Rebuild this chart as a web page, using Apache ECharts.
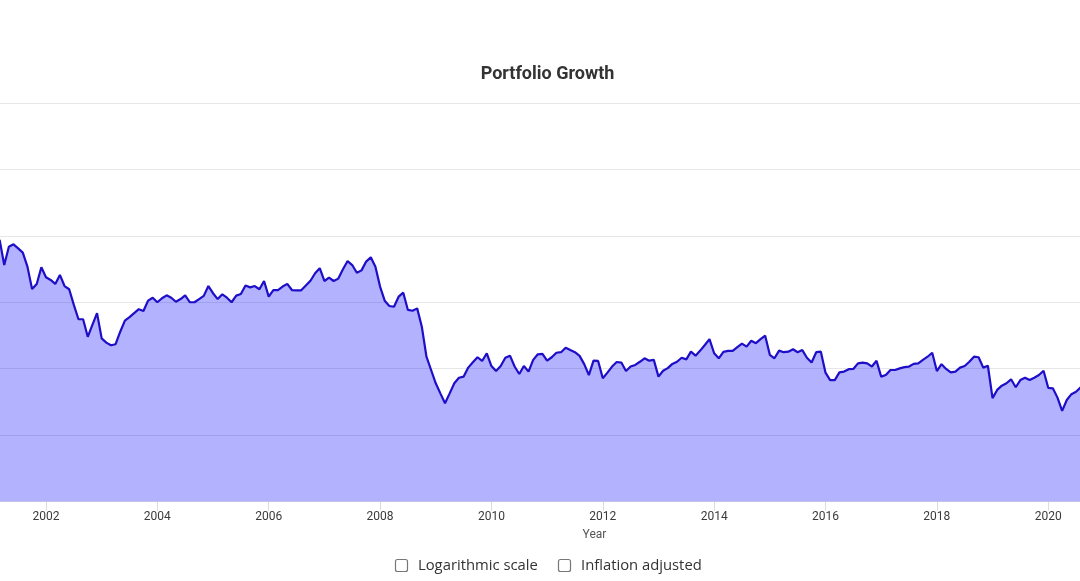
<!DOCTYPE html>
<html>
<head>
<meta charset="utf-8">
<script src="https://cdn.jsdelivr.net/npm/echarts@6/dist/echarts.min.js"></script>
<style>
  html, body { margin: 0; padding: 0; background: #ffffff; }
  #chart { width: 1080px; height: 581px; }
</style>
</head>
<body>
<div id="chart"></div>
<script>
// ---- Data (monthly portfolio value, USD) ----
const startYear = 2001;
const startMonth = 3; // first visible point: March 2001
const portfolioValues = [
  9850, 8900, 9590, 9680, 9530, 9370, 8840, 8000, 8190, 8820,          // 2001-03 .. 2001-12
  8440, 8340, 8190, 8530, 8110, 7990, 7400, 6860, 6860, 6200, 6650, 7090, // 2002
  6140, 5980, 5880, 5920, 6390, 6810, 6940, 7090, 7240, 7170, 7560, 7670, // 2003
  7500, 7650, 7760, 7670, 7520, 7620, 7760, 7500, 7500, 7620, 7740, 8110, // 2004
  7840, 7620, 7800, 7670, 7500, 7750, 7810, 8130, 8060, 8110, 7990, 8300, // 2005
  7710, 7960, 7960, 8090, 8190, 7960, 7950, 7950, 8130, 8310, 8590, 8780, // 2006
  8300, 8430, 8300, 8390, 8740, 9050, 8900, 8610, 8700, 9030, 9190, 8840, // 2007
  8090, 7560, 7360, 7330, 7710, 7860, 7210, 7180, 7270, 6580, 5450, 4950, // 2008
  4450, 4070, 3700, 4070, 4450, 4660, 4700, 5040, 5240, 5430, 5290, 5580, // 2009
  5100, 4910, 5100, 5410, 5490, 5080, 4800, 5100, 4890, 5330, 5540, 5560, // 2010
  5300, 5430, 5600, 5620, 5790, 5700, 5620, 5480, 5170, 4760, 5300, 5290, // 2011
  4640, 4850, 5080, 5250, 5230, 4910, 5080, 5140, 5260, 5390, 5300, 5330, // 2012
  4700, 4920, 5020, 5180, 5260, 5410, 5350, 5640, 5490, 5680, 5890, 6110, // 2013
  5580, 5390, 5630, 5670, 5670, 5810, 5940, 5830, 6050, 5960, 6110, 6240, // 2014
  5520, 5390, 5680, 5620, 5640, 5730, 5620, 5700, 5410, 5230, 5620, 5640, // 2015
  4850, 4570, 4570, 4860, 4890, 4980, 4990, 5200, 5230, 5200, 5080, 5300, // 2016
  4700, 4760, 4950, 4950, 5010, 5060, 5080, 5180, 5200, 5330, 5450, 5600, // 2017
  4910, 5170, 4990, 4860, 4890, 5040, 5100, 5260, 5450, 5430, 5040, 5110, // 2018
  3890, 4200, 4360, 4450, 4600, 4300, 4570, 4660, 4570, 4660, 4760, 4920, // 2019
  4280, 4260, 3910, 3410, 3820, 4040, 4130, 4300                          // 2020-01 .. 2020-08
];
const yearTicks = [2002, 2004, 2006, 2008, 2010, 2012, 2014, 2016, 2018, 2020];
const yTicks = { min: 0, max: 15000, step: 2500 };
const titleText = 'Portfolio Growth';
const xAxisTitle = 'Year';
const checkboxLabels = ['Logarithmic scale', 'Inflation adjusted'];

// ---- Build series points: x = fractional year ----
const seriesData = portfolioValues.map((v, i) => {
  const m = (startMonth - 1) + i;
  return [startYear + m / 12, v];
});

// visible x range of the (cropped) reference view
const xMin = 2001.174;
const xMax = 2020.571;

const chart = echarts.init(document.getElementById('chart'));
chart.setOption({
  backgroundColor: '#ffffff',
  animation: false,
  grid: { left: 0, right: 0, top: 103, bottom: 79.5, containLabel: false, outerBoundsMode: 'none' },
  xAxis: {
    type: 'value',
    min: xMin,
    max: xMax,
    axisLine: { show: false },
    splitLine: { show: false },
    axisTick: {
      show: true,
      customValues: yearTicks,
      length: 9,
      lineStyle: { color: '#dcdcdc', width: 1 }
    },
    axisLabel: {
      show: true,
      customValues: yearTicks,
      margin: 9,
      color: '#3a3a3a',
      fontSize: 12,
      fontFamily: 'Roboto',
      formatter: (v) => String(Math.round(v))
    }
  },
  yAxis: {
    type: 'value',
    min: yTicks.min,
    max: yTicks.max,
    interval: yTicks.step,
    axisLine: { show: false },
    axisTick: { show: false },
    axisLabel: { show: false },
    splitLine: { show: true, lineStyle: { color: '#e6e6e6', width: 1 } }
  },
  series: [{
    type: 'line',
    data: seriesData,
    showSymbol: false,
    symbol: 'none',
    smooth: false,
    clip: true,
    lineStyle: { color: '#1e0ec8', width: 2.2 },
    itemStyle: { color: '#1e0ec8' },
    areaStyle: { color: 'rgba(0,0,255,0.3)', opacity: 1 }
  }],
  graphic: [
    {
      type: 'text', x: 547.5, y: 74,
      style: {
        text: titleText, fill: '#333333', font: 'bold 18px Roboto',
        textAlign: 'center', textVerticalAlign: 'middle'
      }
    },
    {
      type: 'text', x: 594.5, y: 535,
      style: {
        text: xAxisTitle, fill: '#555555', font: '12px Roboto',
        textAlign: 'center', textVerticalAlign: 'middle'
      }
    },
    {
      type: 'rect', shape: { x: 395.5, y: 559.5, width: 12, height: 12, r: 2 },
      style: { fill: '#ffffff', stroke: '#777777', lineWidth: 1.2 }
    },
    {
      type: 'text', x: 418, y: 566,
      style: {
        text: checkboxLabels[0], fill: '#333333', font: '14.8px "Open Sans"',
        textAlign: 'left', textVerticalAlign: 'middle'
      }
    },
    {
      type: 'rect', shape: { x: 558.5, y: 559.5, width: 12, height: 12, r: 2 },
      style: { fill: '#ffffff', stroke: '#777777', lineWidth: 1.2 }
    },
    {
      type: 'text', x: 581, y: 566,
      style: {
        text: checkboxLabels[1], fill: '#333333', font: '14.8px "Open Sans"',
        textAlign: 'left', textVerticalAlign: 'middle'
      }
    }
  ]
});
</script>
</body>
</html>
